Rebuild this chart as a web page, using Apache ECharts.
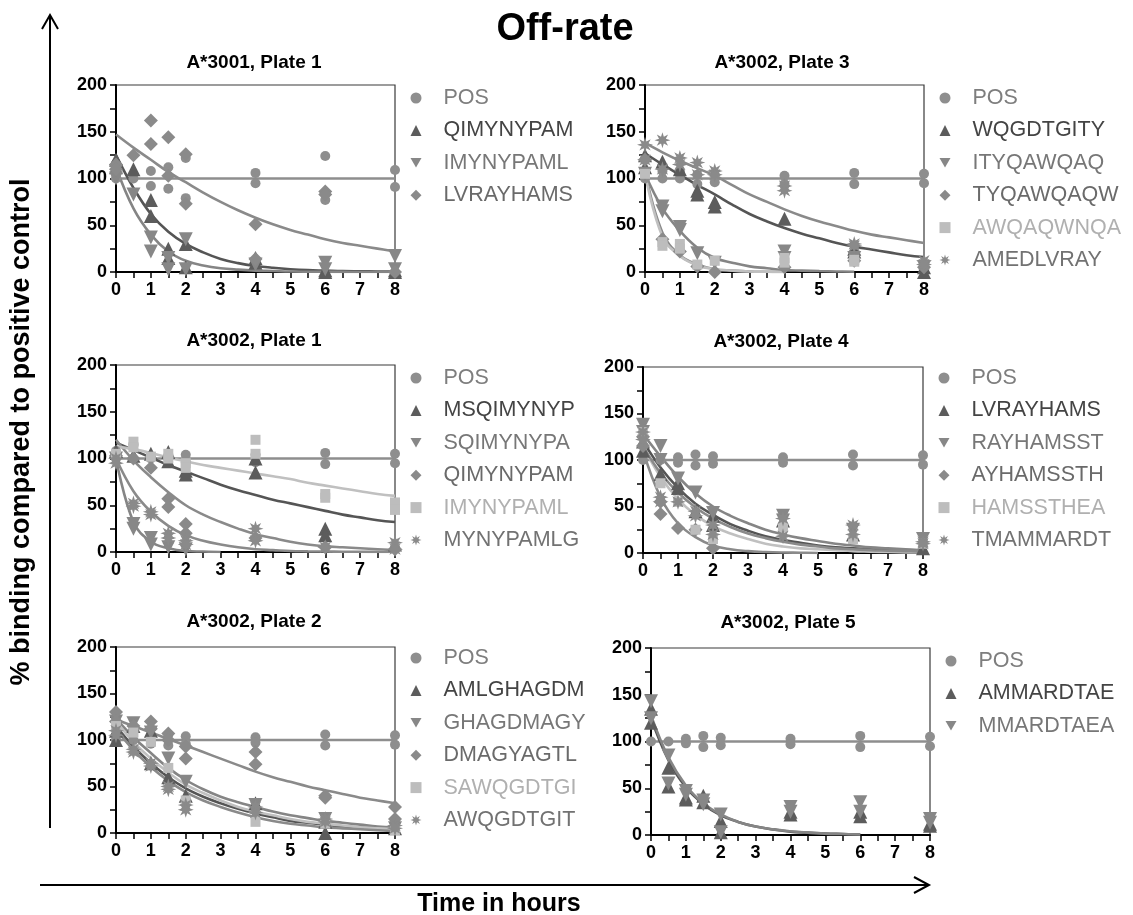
<!DOCTYPE html>
<html><head><meta charset="utf-8">
<script src="https://cdn.jsdelivr.net/npm/echarts@6/dist/echarts.min.js"></script>
<style>html,body{margin:0;padding:0;background:#fff}#c{width:1133px;height:915px}</style>
</head><body><div id="c"></div>
<script>
// ---------- tick labels / titles ----------
const xTicks = [0, 1, 2, 3, 4, 5, 6, 7, 8];
const yTicks = [0, 50, 100, 150, 200];
const panelTitles = ['A*3001, Plate 1', 'A*3002, Plate 3', 'A*3002, Plate 1', 'A*3002, Plate 4', 'A*3002, Plate 2', 'A*3002, Plate 5'];
const fitX = [0, 0.5, 1, 1.5, 2, 2.5, 3, 3.5, 4, 4.5, 5, 5.5, 6, 6.5, 7, 7.5, 8];
const posFit = [[0, 100], [8, 100]];

// ---------- Panel 1: A*3001, Plate 1 ----------
const p1_names = ['POS', 'QIMYNYPAM', 'IMYNYPAML', 'LVRAYHAMS'];
const p1_pos = [[0,100],[0,108],[0,116],[0.5,100],[1,108],[1,92],[1.5,112],[1.5,89],[2,122],[2,79],[4,106],[4,95],[6,124],[6,77],[8,109],[8,91]];
const p1_a = [[0,120],[0,112],[0.5,110],[1,77],[1,60],[1.5,25],[1.5,15],[2,30],[2,5],[4,15],[4,10],[6,2],[6,0],[8,2],[8,0]];
const p1_a_fit = [125,90,62,43,30,21,14,9.5,6.5,4.5,3,2,1.5,1,0.8,0.6,0.5];
const p1_b = [[0,108],[0,100],[0.5,83],[1,37],[1,22],[1.5,15],[1.5,3],[2,35],[2,3],[4,8],[6,10],[6,3],[8,17],[8,3]];
const p1_b_fit = [112,68,40,22,12,7,4,2.5,1.5,1,0.5,0.3,0.2,0.1,0,0,0];
const p1_c = [[0,115],[0,110],[0.5,125],[1,162],[1,137],[1.5,144],[1.5,103],[2,126],[2,73],[4,51],[4,14],[6,86],[6,83],[8,0]];
const p1_c_fit = [147,133,120,107,96,85,75,66,58,51,45,40,35,31,28,25,22];

// ---------- Panel 2: A*3002, Plate 3 ----------
const p2_names = ['POS', 'WQGDTGITY', 'ITYQAWQAQ', 'TYQAWQAQW', 'AWQAQWNQA', 'AMEDLVRAY'];
const p2_pos = [[0,100],[0,108],[0.5,100],[0.5,108],[1,100],[1,108],[1.5,94],[1.5,104],[2,96],[2,104],[4,103],[4,94],[6,106],[6,94],[8,105],[8,95]];
const p2_a = [[0,125],[0,112],[0.5,118],[1,110],[1.5,87],[1.5,83],[2,75],[2,70],[4,57],[6,25],[6,22],[8,5],[8,0]];
const p2_a_fit = [127,115,104,93,83,72,62,54,47,41,36,31,27,24,21,18,16];
const p2_b = [[0,105],[0.5,70],[0.5,65],[1,48],[1,45],[1.5,20],[2,10],[4,22],[4,15],[6,15],[8,5]];
const p2_b_fit = [105,68,44,26,15,10,6,4,2,1.5,1,0.6,0.3];
const p2_c = [[0,120],[0.5,35],[1,22],[1.5,6],[2,0],[4,5],[6,12],[8,5]];
const p2_c_fit = [108,42,18,8,3,1.5,0.5,0.2,0];
const p2_d = [[0,105],[0.5,32],[0.5,28],[1,30],[1,25],[1.5,8],[2,12],[4,15],[4,10],[6,13],[6,11]];
const p2_d_fit = [105,38,17,7,3,1.5,0.5,0.2,0];
const p2_e = [[0,136],[0,120],[0.5,141],[0.5,110],[1,122],[1,115],[1.5,117],[1.5,104],[2,108],[2,104],[4,92],[4,87],[6,30],[6,28],[8,12],[8,8]];
const p2_e_fit = [138,128,119,111,103,93,83,75,67,60,54,49,44,40,37,34,31];

// ---------- Panel 3: A*3002, Plate 1 ----------
const p3_names = ['POS', 'MSQIMYNYP', 'SQIMYNYPA', 'QIMYNYPAM', 'IMYNYPAML', 'MYNYPAMLG'];
const p3_pos = [[0,100],[0,108],[0.5,100],[0.5,115],[1,100],[1.5,100],[2,104],[2,96],[4,104],[4,96],[6,106],[6,94],[8,105],[8,95]];
const p3_a = [[0,108],[0.5,103],[1,105],[1.5,107],[1.5,97],[2,87],[2,83],[4,100],[4,85],[6,25],[6,18],[8,8]];
const p3_a_fit = [117,109,101,93,86,79,72,66,61,56,52,48,44,40,37,34,32];
const p3_b = [[0,100],[0.5,30],[0.5,25],[1,15],[1,8],[1.5,5],[2,3]];
const p3_b_fit = [100,32,11,4,1,0.5,0];
const p3_c = [[0,103],[0.5,100],[1,90],[1.5,57],[1.5,48],[2,30],[2,20],[4,15],[6,5],[8,3]];
const p3_c_fit = [120,98,80,64,50,40,32,25,19,15,11,8,6,5,4,3,2];
const p3_d = [[0,105],[0.5,118],[0.5,112],[1,102],[1.5,105],[1.5,100],[2,95],[2,90],[4,120],[4,105],[6,62],[6,58],[8,53],[8,45]];
const p3_d_fit = [113,110,106,101,97,93,90,87,84,81,78,74,71,68,65,62,60];
const p3_e = [[0,100],[0,95],[0.5,52],[0.5,49],[1,43],[1,40],[1.5,20],[1.5,15],[2,12],[2,8],[4,25],[4,12],[6,5],[8,10],[8,3]];
const p3_e_fit = [100,65,43,28,18,12,8,5,3,2,1,0.7,0.5,0.3,0.2,0.1,0];

// ---------- Panel 4: A*3002, Plate 4 ----------
const p4_names = ['POS', 'LVRAYHAMS', 'RAYHAMSST', 'AYHAMSSTH', 'HAMSSTHEA', 'TMAMMARDT'];
const p4_pos = [[0,100],[0.5,100],[1,103],[1,97],[1.5,106],[1.5,94],[2,104],[2,96],[4,103],[4,97],[6,106],[6,94],[8,105],[8,95]];
const p4_a = [[0,120],[0,110],[0.5,85],[1,75],[1,70],[1.5,45],[2,40],[2,30],[4,35],[6,20],[8,5]];
const p4_a_fit = [120,92,70,53,41,31,24,18,14,11,8,6,5,4,3,2.5,2];
const p4_b = [[0,138],[0,130],[0.5,115],[0.5,100],[1,80],[1.5,65],[2,43],[4,40],[4,35],[6,25],[8,15]];
const p4_b_fit = [128,104,82,64,50,40,32,25,20,16,13,10,8,6,5,4,3];
const p4_c = [[0,125],[0,115],[0.5,55],[0.5,42],[1,27],[1.5,25],[2,5]];
const p4_c_fit = [110,60,32,17,8,4,2,1,0.5,0.3,0];
const p4_d = [[0,130],[0.5,75],[1,55],[1.5,25],[2,15],[4,28],[6,15],[8,10]];
const p4_d_fit = [115,82,58,41,29,21,15,10,7,5,4,3,2,1.5,1,0.7,0.5];
const p4_e = [[0,130],[0,122],[0.5,60],[0.5,55],[1,55],[1.5,45],[1.5,40],[2,30],[2,20],[4,37],[4,18],[6,30],[6,20],[8,12],[8,10]];
const p4_e_fit = [115,86,65,49,37,28,21,16,12,9,7,5,4,3,2.5,2,1.5];

// ---------- Panel 5: A*3002, Plate 2 ----------
const p5_names = ['POS', 'AMLGHAGDM', 'GHAGDMAGY', 'DMAGYAGTL', 'SAWQGDTGI', 'AWQGDTGIT'];
const p5_pos = [[0,100],[0.5,100],[1,105],[1,96],[1.5,106],[1.5,94],[2,104],[2,96],[4,103],[4,97],[6,106],[6,94],[8,105],[8,95]];
const p5_a = [[0,110],[0,100],[0.5,115],[1,110],[1,75],[1.5,60],[2,40],[4,32],[6,12],[6,0],[8,5]];
const p5_a_fit = [115,93,75,60,48,39,32,26,21,17,13,11,9,7,6,5,4];
const p5_b = [[0,120],[0.5,118],[1,108],[1.5,80],[2,55],[4,30],[6,15],[8,5]];
const p5_b_fit = [123,103,86,70,57,47,39,33,28,23,19,16,13,11,9,7,6];
const p5_c = [[0,130],[0,120],[0.5,115],[1,120],[1,112],[1.5,107],[1.5,100],[2,93],[2,80],[4,87],[4,74],[6,40],[6,38],[8,28],[8,15]];
const p5_c_fit = [122,115,108,101,94,87,80,73,66,60,55,50,46,42,38,35,32];
const p5_d = [[0,115],[0.5,108],[1,98],[1.5,70],[2,35],[4,12],[6,10],[8,3]];
const p5_d_fit = [120,98,80,65,52,43,35,28,23,19,15,12,10,8,6,5,4];
const p5_e = [[0,110],[0,105],[0.5,90],[0.5,87],[1,75],[1,72],[1.5,50],[1.5,47],[2,30],[2,25],[4,28],[4,22],[6,15],[6,12],[8,8],[8,5]];
const p5_e_fit = [112,89,71,56,44,35,28,22,17,13,10,8,6,5,4,3,2];

// ---------- Panel 6: A*3002, Plate 5 ----------
const p6_names = ['POS', 'AMMARDTAE', 'MMARDTAEA'];
const p6_pos = [[0,100],[0.5,100],[1,103],[1,98],[1.5,106],[1.5,94],[2,104],[2,96],[4,103],[4,97],[6,106],[6,94],[8,105],[8,95]];
const p6_a = [[0,135],[0,120],[0.5,72],[0.5,52],[1,40],[1,38],[1.5,42],[1.5,35],[2,15],[2,3],[4,25],[4,22],[6,25],[6,20],[8,12],[8,10]];
const p6_a_fit = [125,80,51,33,21,14,9,6,3.5,2.5,1.5,1,0.5];
const p6_b = [[0,143],[0,125],[0.5,85],[0.5,55],[1,47],[1,43],[1.5,37],[1.5,33],[2,22],[2,3],[4,30],[4,25],[6,35],[6,25],[8,17],[8,13]];
const p6_b_fit = [128,83,53,34,22,14,9,6,4,2.5,1.5,1,0.5];

// ---------- styles ----------
function starPath() {
  const pts = [];
  for (let k = 0; k < 16; k++) {
    const a = k * Math.PI / 8 - Math.PI / 2;
    const r = k % 2 === 0 ? 10 : 4.6;
    pts.push((10 + r * Math.cos(a)).toFixed(2) + ',' + (10 + r * Math.sin(a)).toFixed(2));
  }
  return 'path://M' + pts.join(' L') + ' Z';
}
const DOWN = 'path://M0,0 L20,0 L10,17.3 Z';
const STAR = starPath();
const KINDS = {
  pos:  { symbol: 'circle',   size: 10, color: '#8e8e8e', line: '#8e8e8e', text: '#7e7e7e' },
  up:   { symbol: 'triangle', size: 14, color: '#5c5c5c', line: '#555555', text: '#444444' },
  down: { symbol: DOWN,       size: 14, color: '#878787', line: '#858585', text: '#777777' },
  dia:  { symbol: 'diamond',  size: 14, color: '#8a8a8a', line: '#8a8a8a', text: '#6a6a6a' },
  sq:   { symbol: 'rect',     size: 10, color: '#bdbdbd', line: '#c0c0c0', text: '#b0b0b0' },
  ast:  { symbol: STAR,       size: 16, color: '#8a8a8a', line: '#8a8a8a', text: '#727272' }
};
const kindOrder = ['pos', 'up', 'down', 'dia', 'sq', 'ast'];

const panels = [
  { names: p1_names, pts: [p1_pos, p1_a, p1_b, p1_c], fits: [posFit, p1_a_fit, p1_b_fit, p1_c_fit],
    grid: { left: 116, top: 85, width: 279, height: 187 }, legend: { x: 416, top: 87 }, title: [254, 63] },
  { names: p2_names, pts: [p2_pos, p2_a, p2_b, p2_c, p2_d, p2_e], fits: [posFit, p2_a_fit, p2_b_fit, p2_c_fit, p2_d_fit, p2_e_fit],
    grid: { left: 645, top: 85, width: 279, height: 187 }, legend: { x: 945, top: 87 }, title: [782, 63] },
  { names: p3_names, pts: [p3_pos, p3_a, p3_b, p3_c, p3_d, p3_e], fits: [posFit, p3_a_fit, p3_b_fit, p3_c_fit, p3_d_fit, p3_e_fit],
    grid: { left: 116, top: 365, width: 279, height: 187 }, legend: { x: 416, top: 367 }, title: [254, 341] },
  { names: p4_names, pts: [p4_pos, p4_a, p4_b, p4_c, p4_d, p4_e], fits: [posFit, p4_a_fit, p4_b_fit, p4_c_fit, p4_d_fit, p4_e_fit],
    grid: { left: 643, top: 367, width: 280, height: 186 }, legend: { x: 944, top: 367 }, title: [781, 342] },
  { names: p5_names, pts: [p5_pos, p5_a, p5_b, p5_c, p5_d, p5_e], fits: [posFit, p5_a_fit, p5_b_fit, p5_c_fit, p5_d_fit, p5_e_fit],
    grid: { left: 116, top: 647, width: 279, height: 186 }, legend: { x: 416, top: 647 }, title: [254, 622] },
  { names: p6_names, pts: [p6_pos, p6_a, p6_b], fits: [posFit, p6_a_fit, p6_b_fit],
    grid: { left: 651, top: 648, width: 279, height: 187 }, legend: { x: 951, top: 650 }, title: [788, 623] }
];

const FONT = "'Liberation Sans', Arial, Helvetica, sans-serif";
const grids = [], xAxes = [], yAxes = [], legends = [], series = [], graphics = [];

panels.forEach((p, i) => {
  grids.push(Object.assign({ show: true, borderColor: '#3a3a3a', borderWidth: 1.2, backgroundColor: 'transparent' }, p.grid));
  const tickStyle = { color: '#000', width: 1.5 };
  const lab = { color: '#000', fontWeight: 'bold', fontSize: 18, fontFamily: FONT, margin: 9 };
  xAxes.push({
    type: 'value', gridIndex: i, min: xTicks[0], max: xTicks[xTicks.length - 1], interval: 1,
    axisLine: { show: true, onZero: false, lineStyle: { color: '#000', width: 2 } },
    axisTick: { show: true, length: 6, lineStyle: tickStyle },
    minorTick: { show: true, splitNumber: 2, length: 6, lineStyle: tickStyle },
    splitLine: { show: false },
    axisLabel: Object.assign({ formatter: v => (xTicks.indexOf(v) >= 0 ? String(v) : '') }, lab)
  });
  yAxes.push({
    type: 'value', gridIndex: i, min: yTicks[0], max: yTicks[yTicks.length - 1], interval: 50,
    axisLine: { show: true, onZero: false, lineStyle: { color: '#000', width: 2 } },
    axisTick: { show: true, length: 6, lineStyle: tickStyle },
    minorTick: { show: true, splitNumber: 2, length: 6, lineStyle: tickStyle },
    splitLine: { show: false },
    axisLabel: Object.assign({ formatter: v => (yTicks.indexOf(v) >= 0 ? String(v) : '') }, lab)
  });
  const legendData = [];
  p.names.forEach((nm, j) => {
    const k = KINDS[kindOrder[j]];
    const sName = (i + 1) + '|' + nm;
    const f = p.fits[j];
    const fitData = (j === 0) ? f : f.map((v, q) => [fitX[q], v]);
    series.push({
      type: 'line', name: sName + '|fit', xAxisIndex: i, yAxisIndex: i, data: fitData,
      showSymbol: false, symbol: 'none', smooth: 0.4, silent: true,
      lineStyle: { color: k.line, width: 2.6 }, z: 2
    });
    series.push({
      type: 'scatter', name: sName, xAxisIndex: i, yAxisIndex: i, data: p.pts[j],
      symbol: k.symbol, symbolSize: k.size, itemStyle: { color: k.color, opacity: 1 }, z: 3
    });
    legendData.push({ name: sName, icon: k.symbol, textStyle: { color: k.text } });
  });
  legends.push({
    orient: 'vertical', left: p.legend.x - 5.5, top: p.legend.top, padding: 0,
    itemWidth: 11, itemHeight: 11, itemGap: 10.4, selectedMode: false, symbolKeepAspect: true,
    data: legendData, formatter: n => n.split('|')[1],
    textStyle: { fontSize: 21.5, lineHeight: 22, fontFamily: FONT, padding: [0, 0, 0, 17] }
  });
  graphics.push({ type: 'text', x: p.title[0], y: p.title[1],
    style: { text: panelTitles[i], fill: '#000', font: 'bold 19px ' + FONT, textAlign: 'center', textVerticalAlign: 'middle' } });
});

// big axes arrows and titles
graphics.push(
  { type: 'text', x: 565, y: 30, style: { text: 'Off-rate', fill: '#000', font: 'bold 38px ' + FONT, textAlign: 'center', textVerticalAlign: 'middle' } },
  { type: 'line', shape: { x1: 50, y1: 828, x2: 50, y2: 16 }, style: { stroke: '#000', lineWidth: 2 } },
  { type: 'polyline', shape: { points: [[42, 29], [50, 15], [58, 29]] }, style: { stroke: '#000', lineWidth: 2, fill: null } },
  { type: 'line', shape: { x1: 40, y1: 885, x2: 928, y2: 885 }, style: { stroke: '#000', lineWidth: 2 } },
  { type: 'polyline', shape: { points: [[914, 877], [929, 885], [914, 893]] }, style: { stroke: '#000', lineWidth: 2, fill: null } },
  { type: 'text', x: 499, y: 904, style: { text: 'Time in hours', fill: '#000', font: 'bold 25px ' + FONT, textAlign: 'center', textVerticalAlign: 'middle' } },
  { type: 'text', x: 22, y: 432, rotation: Math.PI / 2,
    style: { text: '% binding compared to positive control', fill: '#000', font: 'bold 27px ' + FONT, textAlign: 'center', textVerticalAlign: 'middle' } }
);

const chart = echarts.init(document.getElementById('c'), null, { renderer: 'canvas' });
chart.setOption({
  animation: false,
  backgroundColor: '#ffffff',
  grid: grids, xAxis: xAxes, yAxis: yAxes, legend: legends, series: series, graphic: graphics
});
</script>
</body></html>
